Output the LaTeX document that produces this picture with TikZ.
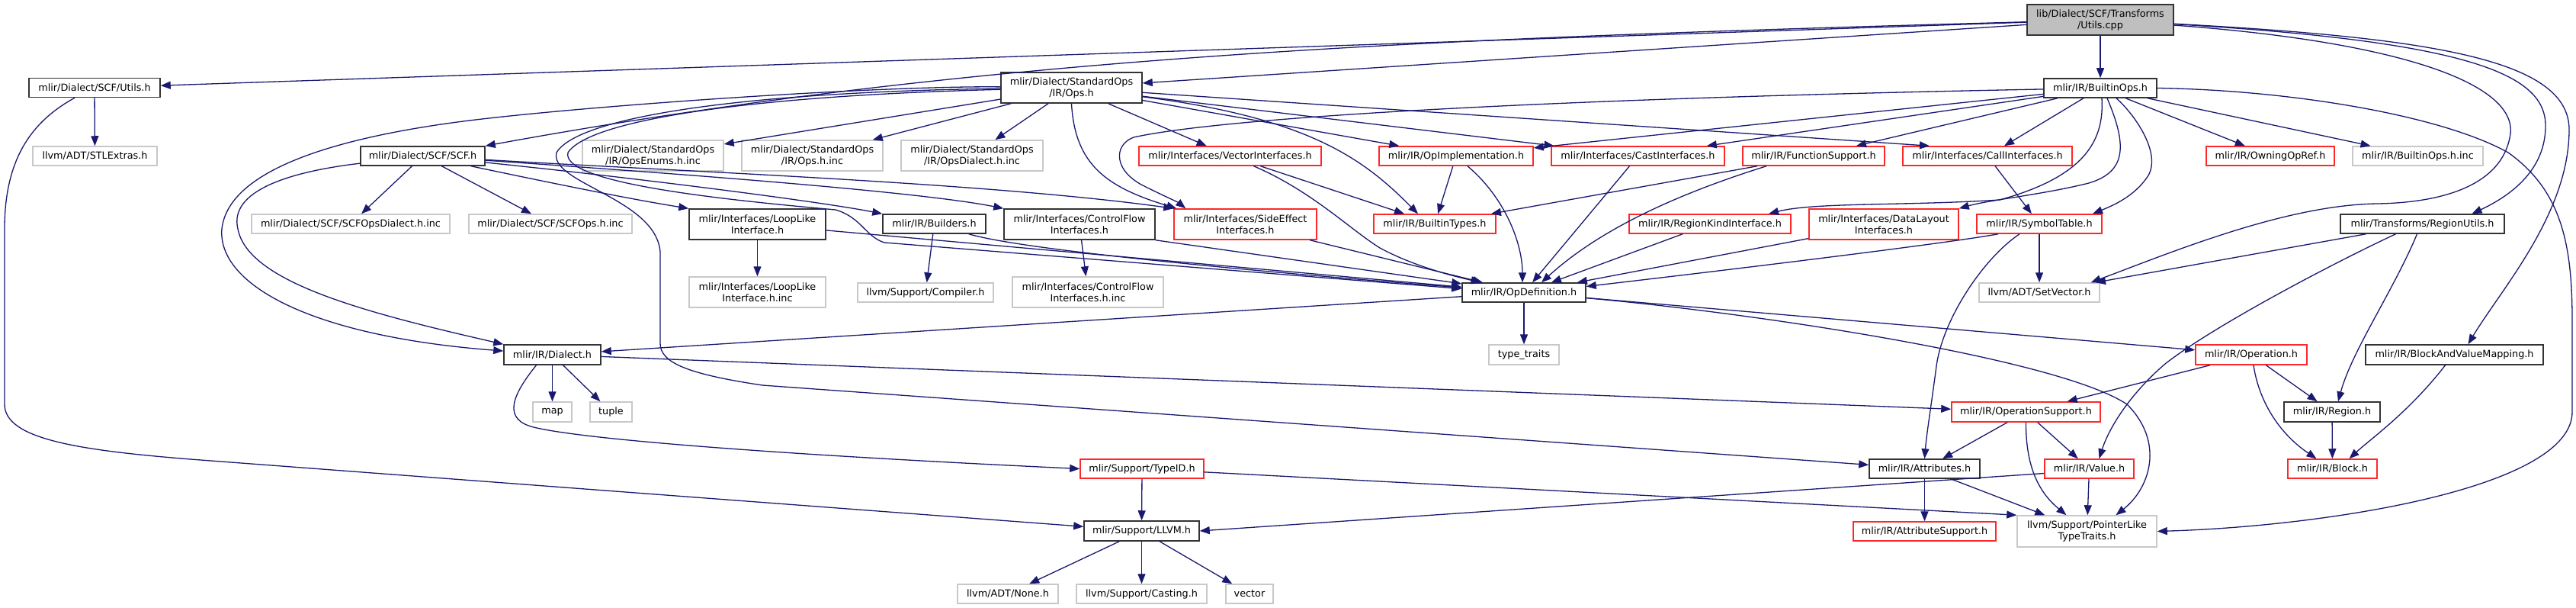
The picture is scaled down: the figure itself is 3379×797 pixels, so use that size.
\documentclass[tikz,border=0pt]{standalone}
\usepackage{fontspec}
\newfontfamily\dvfont{DejaVu Sans}
\usetikzlibrary{arrows.meta}
\definecolor{edgec}{RGB}{25,25,112}
\definecolor{redb}{RGB}{255,40,40}
\definecolor{grayb}{RGB}{200,200,200}
\definecolor{rootfill}{RGB}{191,191,191}
\begin{document}
\begin{tikzpicture}[x=1pt,y=-1pt,
  nb/.style={draw=black!80, line width=1.5pt, fill=white, minimum height=25pt, inner sep=0pt, align=center, font=\dvfont\fontsize{12.8}{15}\selectfont},
  nr/.style={nb, draw=redb},
  ng/.style={nb, draw=grayb},
  nroot/.style={nb, fill=rootfill},
  e/.style={draw=edgec, line width=1.3pt, -{Triangle[length=13pt,width=10pt]}}]
\useasboundingbox[fill=white] (0,0) rectangle (3379,797);
% nodes
\node[nroot,minimum width=192pt,minimum height=40pt] (root) at (2755,26) {lib/Dialect/SCF/Transforms\\/Utils.cpp};
\node[nb,minimum width=172pt] (utilsh) at (124,115) {mlir/Dialect/SCF/Utils.h};
\node[nb,minimum width=185pt,minimum height=40pt] (opsh) at (1405.5,115) {mlir/Dialect/StandardOps\\/IR/Ops.h};
\node[nb,minimum width=148pt] (builtinops) at (2755,115.5) {mlir/IR/BuiltinOps.h};
\node[ng,minimum width=163pt] (stlextras) at (124.5,204.5) {llvm/ADT/STLExtras.h};
\node[nb,minimum width=163pt] (scfh) at (554.5,204.5) {mlir/Dialect/SCF/SCF.h};
\node[ng,minimum width=185pt,minimum height=40pt] (opsenums) at (856.5,204) {mlir/Dialect/StandardOps\\/IR/OpsEnums.h.inc};
\node[ng,minimum width=185pt,minimum height=40pt] (opshinc) at (1065.5,204) {mlir/Dialect/StandardOps\\/IR/Ops.h.inc};
\node[ng,minimum width=186pt,minimum height=40pt] (opsdialect) at (1275,204) {mlir/Dialect/StandardOps\\/IR/OpsDialect.h.inc};
\node[nr,minimum width=239pt] (vectorif) at (1613.5,204.5) {mlir/Interfaces/VectorInterfaces.h};
\node[nr,minimum width=202pt] (opimpl) at (1910,204.5) {mlir/IR/OpImplementation.h};
\node[nr,minimum width=227pt] (castif) at (2148.5,204.5) {mlir/Interfaces/CastInterfaces.h};
\node[nr,minimum width=186pt] (funcsupp) at (2379,204.5) {mlir/IR/FunctionSupport.h};
\node[nr,minimum width=222pt] (callif) at (2607,204.5) {mlir/Interfaces/CallInterfaces.h};
\node[nr,minimum width=168pt] (owning) at (2978,204.5) {mlir/IR/OwningOpRef.h};
\node[ng,minimum width=171pt] (builtinopsinc) at (3171.5,204.5) {mlir/IR/BuiltinOps.h.inc};
\node[ng,minimum width=260pt] (scfopsdialect) at (460,293.5) {mlir/Dialect/SCF/SCFOpsDialect.h.inc};
\node[ng,minimum width=214pt] (scfopsinc) at (722,293.5) {mlir/Dialect/SCF/SCFOps.h.inc};
\node[nb,minimum width=179pt,minimum height=40pt] (looplike) at (993.5,294) {mlir/Interfaces/LoopLike\\Interface.h};
\node[nb,minimum width=135pt] (builders) at (1225.5,293.5) {mlir/IR/Builders.h};
\node[nb,minimum width=198pt,minimum height=40pt] (controlflow) at (1416,294) {mlir/Interfaces/ControlFlow\\Interfaces.h};
\node[nr,minimum width=187pt,minimum height=40pt] (sideeffect) at (1633.5,294) {mlir/Interfaces/SideEffect\\Interfaces.h};
\node[nr,minimum width=160pt] (builtintypes) at (1882,293.5) {mlir/IR/BuiltinTypes.h};
\node[nr,minimum width=212pt] (regionkind) at (2243,293.5) {mlir/IR/RegionKindInterface.h};
\node[nr,minimum width=196pt,minimum height=40pt] (datalayout) at (2471,294) {mlir/Interfaces/DataLayout\\Interfaces.h};
\node[nr,minimum width=164pt] (symboltable) at (2675,293.5) {mlir/IR/SymbolTable.h};
\node[nb,minimum width=215pt] (regionutils) at (3177.5,293.5) {mlir/Transforms/RegionUtils.h};
\node[ng,minimum width=179pt,minimum height=40pt] (looplikeinc) at (993.5,383) {mlir/Interfaces/LoopLike\\Interface.h.inc};
\node[ng,minimum width=178pt] (compiler) at (1214,383.5) {llvm/Support/Compiler.h};
\node[ng,minimum width=198pt,minimum height=40pt] (controlflowinc) at (1427,383) {mlir/Interfaces/ControlFlow\\Interfaces.h.inc};
\node[nb,minimum width=162pt] (opdef) at (1999,383.5) {mlir/IR/OpDefinition.h};
\node[ng,minimum width=158pt] (setvector) at (2675,383.5) {llvm/ADT/SetVector.h};
\node[nb,minimum width=127pt,minimum height=26pt] (dialect) at (724.5,465) {mlir/IR/Dialect.h};
\node[ng,minimum width=92pt,minimum height=26pt] (typetraits) at (1999,465) {type\_traits};
\node[nr,minimum width=146pt,minimum height=26pt] (operation) at (2953,465) {mlir/IR/Operation.h};
\node[nb,minimum width=233pt,minimum height=26pt] (bavm) at (3219.5,465) {mlir/IR/BlockAndValueMapping.h};
\node[ng,minimum width=51pt,minimum height=26pt] (map) at (724.5,540) {map};
\node[ng,minimum width=55pt,minimum height=26pt] (tuple) at (801.5,540) {tuple};
\node[nr,minimum width=195pt,minimum height=26pt] (opsupport) at (2657.5,540) {mlir/IR/OperationSupport.h};
\node[nb,minimum width=126pt,minimum height=26pt] (region) at (3059,540) {mlir/IR/Region.h};
\node[nr,minimum width=162pt] (typeid) at (1498,614.5) {mlir/Support/TypeID.h};
\node[nb,minimum width=145pt] (attributes) at (2524.5,614.5) {mlir/IR/Attributes.h};
\node[nr,minimum width=117pt] (value) at (2740.5,614.5) {mlir/IR/Value.h};
\node[nr,minimum width=117pt] (block) at (3059.5,614.5) {mlir/IR/Block.h};
\node[nb,minimum width=151pt,minimum height=26pt] (llvmh) at (1497.5,696) {mlir/Support/LLVM.h};
\node[nr,minimum width=187pt] (attrsupport) at (2524.5,696.5) {mlir/IR/AttributeSupport.h};
\node[ng,minimum width=183pt,minimum height=41pt] (pointerlike) at (2737.5,696.5) {llvm/Support/PointerLike\\TypeTraits.h};
\node[ng,minimum width=132pt] (none) at (1322,778.5) {llvm/ADT/None.h};
\node[ng,minimum width=171pt] (casting) at (1497.5,778.5) {llvm/Support/Casting.h};
\node[ng,minimum width=62pt] (vector) at (1639,778.5) {vector};
% root edges
\draw[e] (root) -- (utilsh);
\draw[e] (root) -- (opsh);
\draw[e] (root) -- (builtinops);
\draw[e] (root) .. controls (1900,50) and (1300,70) .. (scfh.north east);
\draw[e] (root) .. controls (3150,55) and (3300,110) .. (3293,175) .. controls (3285,235) and (3220,265) .. (3120,267) .. controls (3000,268) and (2850,330) .. ([xshift=-12pt]setvector.north east);
\draw[e] (root) .. controls (3250,55) and (3339,100) .. (3339,165) .. controls (3339,225) and (3290,258) .. ([xshift=65pt]regionutils.north);
\draw[e] (root) .. controls (3200,50) and (3370,80) .. (3370,170) .. controls (3370,280) and (3280,380) .. ([xshift=18pt]bavm.north);
% utils.h
\draw[e] (utilsh) -- (stlextras);
\draw[e] ([xshift=-26pt]utilsh.south) .. controls (40,160) and (6,210) .. (6,300) -- (6,530) .. controls (6,575) and (100,590) .. (250,602) -- (llvmh);
% Ops.h
\draw[e] (opsh) -- (opsenums);
\draw[e] (opsh) -- (opshinc);
\draw[e] (opsh) -- (opsdialect);
\draw[e] (opsh) -- (vectorif);
\draw[e] (opsh.south) .. controls (1410,215) and (1450,245) .. ([xshift=4pt]sideeffect.north west);
\draw[e] (opsh) -- (castif);
\draw[e] (opsh) -- (opimpl);
\draw[e] (opsh) -- ([xshift=-76pt]callif.north);
\draw[e] (opsh) .. controls (1720,155) and (1790,210) .. ([xshift=-22pt]builtintypes.north);
\draw[e] (opsh) .. controls (1150,112) and (750,140) .. (600,160) .. controls (450,180) and (300,220) .. (291,300) .. controls (285,370) and (400,440) .. (dialect);
\draw[e] (opsh) .. controls (1000,120) and (760,150) .. (730,200) .. controls (720,240) and (860,260) .. (866,330) -- (866,450) .. controls (866,475) and (900,490) .. (1000,505) -- (attributes);
\draw[e] (opsh) .. controls (1000,125) and (775,155) .. (745,200) .. controls (735,240) and (950,262) .. (1096,275) .. controls (1130,285) and (1135,310) .. (1160,318) -- ([yshift=5pt]opdef.west);
% BuiltinOps.h
\draw[e] (builtinops) .. controls (2000,130) and (1600,155) .. (1487,180) .. controls (1460,190) and (1460,225) .. (1503,245) .. controls (1525,256) and (1545,265) .. ([xshift=16pt]sideeffect.north west);
\draw[e] (builtinops) -- (opimpl);
\draw[e] (builtinops) -- (castif);
\draw[e] (builtinops) -- (funcsupp);
\draw[e] (builtinops) -- (callif);
\draw[e] (builtinops) -- (owning);
\draw[e] (builtinops) -- (builtinopsinc);
\draw[e] ([xshift=2pt]builtinops.south) .. controls (2760,180) and (2740,230) .. (2623,262) .. controls (2500,270) and (2380,265) .. ([xshift=77pt]regionkind.north);
\draw[e] ([xshift=9pt]builtinops.south) .. controls (2790,190) and (2790,225) .. (2740,240) .. controls (2680,255) and (2610,262) .. (datalayout.north east);
\draw[e] ([xshift=21pt]builtinops.south) .. controls (2800,150) and (2835,200) .. (2818,230) .. controls (2800,258) and (2770,270) .. ([xshift=70pt]symboltable.north);
\draw[e] (builtinops.east) .. controls (3000,118) and (3200,150) .. (3290,200) .. controls (3360,250) and (3374,320) .. (3374,420) -- (3374,540) .. controls (3374,640) and (3050,690) .. (pointerlike.east);
% SCF.h
\draw[e] (scfh) -- (scfopsdialect);
\draw[e] (scfh) -- (scfopsinc);
\draw[e] (scfh) .. controls (700,235) and (820,260) .. (looplike.north west);
\draw[e] (scfh) .. controls (850,235) and (1080,265) .. (builders.north west);
\draw[e] (scfh) .. controls (850,225) and (1200,250) .. (controlflow.north west);
\draw[e] (scfh) .. controls (900,225) and (1300,240) .. (sideeffect.north west);
\draw[e] (scfh) .. controls (380,225) and (300,250) .. (312,300) .. controls (325,370) and (480,410) .. (dialect.north west);
% row 3
\draw[e] (looplike) -- (looplikeinc);
\draw[e] (looplike) -- (opdef);
\draw[e] (builders) -- (compiler);
\draw[e] (builders) .. controls (1350,330) and (1700,360) .. (opdef);
\draw[e] (controlflow) -- (controlflowinc);
\draw[e] (controlflow.south east) -- (opdef);
\draw[e] (sideeffect) -- (opdef);
\draw[e] (vectorif) -- (builtintypes);
\draw[e] (vectorif) .. controls (1720,250) and (1770,300) .. (1810,325) .. controls (1860,352) and (1920,365) .. (opdef);
\draw[e] (opimpl) -- (builtintypes);
\draw[e] ([xshift=15pt]opimpl.south) .. controls (1975,260) and (1997,320) .. ([xshift=-2pt]opdef.north);
\draw[e] (castif) -- (opdef);
\draw[e] (funcsupp) -- (builtintypes);
\draw[e] ([xshift=-62pt]funcsupp.south) .. controls (2230,245) and (2110,290) .. ([xshift=23pt]opdef.north);
\draw[e] (regionkind) -- (opdef);
\draw[e] (datalayout) -- (opdef);
\draw[e] ([xshift=-54pt]symboltable.south) .. controls (2560,318) and (2300,350) .. ([yshift=8pt]opdef.east);
\draw[e] (symboltable) -- (setvector);
\draw[e] ([xshift=-26pt]symboltable.south) .. controls (2600,340) and (2548,420) .. (2540,480) .. controls (2532,540) and (2527,570) .. (attributes.north);
\draw[e] (callif) -- (symboltable);
\draw[e] (regionutils) -- (setvector);
\draw[e] ([xshift=-35pt]regionutils.south) .. controls (3050,350) and (2900,430) .. (2840,477) .. controls (2790,520) and (2765,565) .. ([xshift=13pt]value.north);
\draw[e] ([xshift=-7pt]regionutils.south) .. controls (3140,380) and (3085,460) .. ([xshift=8pt]region.north);
% OpDefinition
\draw[e] (opdef) -- (typetraits);
\draw[e] (opdef) -- (dialect);
\draw[e] (opdef) -- (operation);
\draw[e] (opdef) .. controls (2300,410) and (2700,470) .. (2790,530) .. controls (2840,580) and (2820,640) .. ([xshift=38pt]pointerlike.north);
% Dialect
\draw[e] (dialect) -- (map);
\draw[e] (dialect) -- (tuple);
\draw[e] ([xshift=-21pt]dialect.south) .. controls (670,520) and (660,550) .. (700,560) .. controls (760,575) and (1000,595) .. (typeid.west);
\draw[e] (dialect) -- (opsupport);
% lower
\draw[e] (operation) -- (opsupport);
\draw[e] (operation) -- (region);
\draw[e] ([xshift=3pt]operation.south) .. controls (2962,520) and (2985,565) .. ([xshift=-21pt]block.north);
\draw[e] ([xshift=-12pt]bavm.south) .. controls (3160,540) and (3110,575) .. ([xshift=22pt]block.north);
\draw[e] (region) -- (block);
\draw[e] (opsupport) -- (attributes);
\draw[e] (opsupport) -- (value);
\draw[e] (opsupport.south) .. controls (2657,620) and (2680,650) .. ([xshift=-27pt]pointerlike.north);
\draw[e] (attributes) -- (attrsupport);
\draw[e] (attributes) -- (pointerlike);
\draw[e] (value) -- (pointerlike);
\draw[e] ([yshift=-6pt]value.west) -- (llvmh.east);
\draw[e] (typeid) -- (llvmh);
\draw[e] (typeid) -- (pointerlike.north west);
\draw[e] (llvmh) -- (none);
\draw[e] (llvmh) -- (casting);
\draw[e] (llvmh) -- (vector);
\end{tikzpicture}
\end{document}
